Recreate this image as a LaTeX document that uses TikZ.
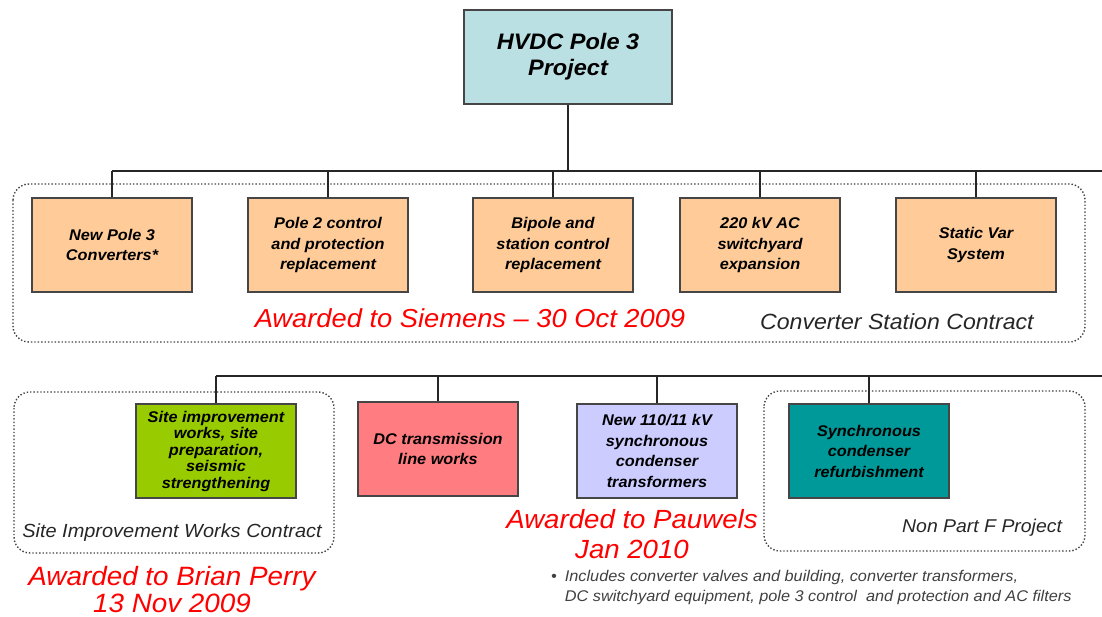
\documentclass[tikz,border=0pt]{standalone}
\usepackage{fontspec}
\setmainfont[FakeStretch=1.05]{Liberation Sans}
\definecolor{topfill}{RGB}{187,224,227}
\definecolor{peach}{RGB}{255,204,153}
\definecolor{lime}{RGB}{153,204,0}
\definecolor{salmon}{RGB}{255,124,128}
\definecolor{lav}{RGB}{204,204,255}
\definecolor{tealbox}{RGB}{0,153,153}
\definecolor{edge}{RGB}{70,70,70}
\begin{document}
\begin{tikzpicture}[x=1pt,y=-1pt,
  box/.style={draw=edge, line width=1.2pt, minimum width=160pt, minimum height=94pt,
    inner sep=0pt, align=center, font=\fontsize{15.5}{20.5}\selectfont\bfseries\itshape},
  grp/.style={draw=black!75, dotted, line width=1.4pt, rounded corners=16pt},
  conn/.style={draw=black!85, line width=1.3pt},
  award/.style={text=red, font=\fontsize{26}{30}\selectfont\itshape, align=center, inner sep=0pt},
  lbl/.style={text=black!85, inner sep=0pt}]
\useasboundingbox (0,0) rectangle (1102,617);
% group outlines
\draw[grp] (13,184) rectangle (1085,342);
\draw[grp] (14,392) rectangle (334,553);
\draw[grp] (764,391) rectangle (1085,551);
% nodes
\node[box, fill=topfill, minimum width=208pt, font=\fontsize{22.4}{26}\selectfont\bfseries\itshape] (top) at (568,57) {HVDC Pole 3\\Project};
\node[box, fill=peach] (c1) at (112,245) {New Pole 3\\Converters*};
\node[box, fill=peach] (c2) at (328,245) {Pole 2 control\\and protection\\replacement};
\node[box, fill=peach] (c3) at (553,245) {Bipole and\\station control\\replacement};
\node[box, fill=peach] (c4) at (760,245) {220 kV AC\\switchyard\\expansion};
\node[box, fill=peach] (c5) at (976,245) {Static Var\\System};
\node[box, fill=lime, font=\fontsize{15.5}{16.5}\selectfont\bfseries\itshape] (d1) at (216,451) {Site improvement\\works, site\\preparation,\\seismic\\strengthening};
\node[box, fill=salmon] (d2) at (438,449) {DC transmission\\line works};
\node[box, fill=lav] (d3) at (657,451) {New 110/11 kV\\synchronous\\condenser\\transformers};
\node[box, fill=tealbox] (d4) at (869,451) {Synchronous\\condenser\\refurbishment};
% connectors
\coordinate (bus1end) at (1102,171);
\coordinate (bus2end) at (1102,376);
\draw[conn] (top.south) -- (top.south |- bus1end);
\draw[conn] (c1.north |- bus1end) -- (bus1end);
\foreach \n in {c1,c2,c3,c4,c5} \draw[conn] (\n.north) -- (\n.north |- bus1end);
\draw[conn] (d1.north |- bus2end) -- (bus2end);
\foreach \n in {d1,d2,d3,d4} \draw[conn] (\n.north) -- (\n.north |- bus2end);
% labels
\node[award] (aw1) at (470,318) {Awarded to Siemens -- 30 Oct 2009};
\node[lbl, anchor=west, font=\fontsize{22}{24}\selectfont\itshape] (l1) at (760,322) {Converter Station Contract};
\node[lbl, font=\fontsize{19}{22}\selectfont\itshape] (l2) at (172,533) {Site Improvement Works Contract};
\node[lbl, anchor=west, font=\fontsize{18.5}{22}\selectfont\itshape] (l3) at (902,528) {Non Part F Project};
\node[award, font=\fontsize{26.5}{27.5}\selectfont\itshape] (aw2) at (172,589.5) {Awarded to Brian Perry\\13 Nov 2009};
\node[award, font=\fontsize{26.3}{30}\selectfont\itshape] (aw3) at (632,534) {Awarded to Pauwels\\Jan 2010};
\node[lbl, text=black!75, anchor=west, align=left, font=\fontsize{15.5}{20}\selectfont\itshape] (fn) at (551,587)
  {\textbullet\hspace{8pt}Includes converter valves and building, converter transformers,\\\hphantom{\textbullet\hspace{8pt}}DC switchyard equipment, pole 3 control~ and protection and AC filters};
\end{tikzpicture}
\end{document}
